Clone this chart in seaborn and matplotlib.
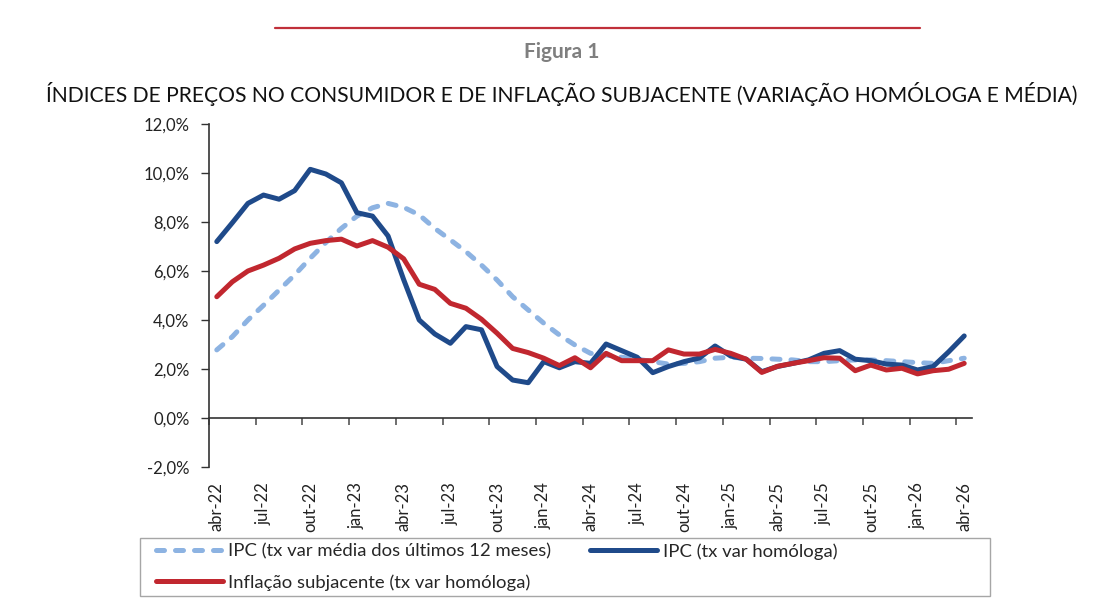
import numpy as np
import pandas as pd
import matplotlib
matplotlib.use("Agg")
import matplotlib.pyplot as plt
from matplotlib.lines import Line2D
from matplotlib.patches import Rectangle
import seaborn as sns

# ---------------- data ----------------
months_pt = ["jan", "fev", "mar", "abr", "mai", "jun", "jul", "ago", "set", "out", "nov", "dez"]
periods = [f"{months_pt[(3 + i) % 12]}-{22 + (3 + i) // 12}" for i in range(49)]  # abr-22 .. abr-26

ipc_media12 = [2.78, 3.32, 4.00, 4.60, 5.22, 5.84, 6.52, 7.16, 7.74, 8.24, 8.58, 8.76,
               8.60, 8.29, 7.74, 7.27, 6.79, 6.24, 5.63, 4.95, 4.41, 3.87, 3.39, 2.98,
               2.64, 2.57, 2.48, 2.40, 2.30, 2.20, 2.23, 2.30, 2.44, 2.48, 2.44, 2.43,
               2.40, 2.37, 2.30, 2.30, 2.34, 2.37, 2.37, 2.34, 2.30, 2.26, 2.23, 2.34, 2.44]

ipc_homologa = [7.20, 7.97, 8.76, 9.10, 8.93, 9.28, 10.15, 9.96, 9.60, 8.38, 8.24, 7.43,
                5.65, 4.00, 3.43, 3.05, 3.73, 3.60, 2.10, 1.55, 1.44, 2.30, 2.05, 2.30,
                2.23, 3.02, 2.75, 2.48, 1.85, 2.10, 2.30, 2.45, 2.94, 2.53, 2.40, 1.89,
                2.10, 2.23, 2.37, 2.64, 2.75, 2.40, 2.34, 2.20, 2.16, 1.96, 2.10, 2.70, 3.35]

inflacao_subj = [4.95, 5.56, 6.00, 6.24, 6.52, 6.90, 7.13, 7.24, 7.30, 7.02, 7.24, 6.97,
                 6.50, 5.46, 5.25, 4.68, 4.48, 4.03, 3.46, 2.84, 2.67, 2.44, 2.14, 2.46,
                 2.05, 2.64, 2.34, 2.34, 2.34, 2.78, 2.61, 2.61, 2.80, 2.64, 2.40, 1.86,
                 2.11, 2.23, 2.34, 2.46, 2.44, 1.93, 2.16, 1.96, 2.03, 1.80, 1.93, 1.99, 2.23]

yticks = [-2, 0, 2, 4, 6, 8, 10, 12]
ytick_labels = ["-2,0%", "0,0%", "2,0%", "4,0%", "6,0%", "8,0%", "10,0%", "12,0%"]

lbl_media = "IPC (tx var média dos últimos 12 meses)"
lbl_hom = "IPC (tx var homóloga)"
lbl_subj = "Inflação subjacente (tx var homóloga)"

df = pd.DataFrame({"pos": np.arange(len(periods)), "periodo": periods,
                   "media": ipc_media12, "homologa": ipc_homologa, "subj": inflacao_subj})

# ---------------- style ----------------
sns.set_style("white")
plt.rcParams["font.family"] = ["Lato", "DejaVu Sans"]

C_LIGHT = "#8DB3E2"
C_DARK = "#1F4A8A"
C_RED = "#C1272F"
LW = 3.6
DASH = (0, (1.6, 2.2))

fig = plt.figure(figsize=(11.03, 6.12), dpi=100)
ax = fig.add_axes([209 / 1103, 1 - 467 / 612, (972 - 209) / 1103, (467 - 124) / 612])

sns.lineplot(data=df, x="pos", y="media", ax=ax, color=C_LIGHT, linewidth=LW,
             linestyle=DASH, dash_capstyle="round", label=lbl_media, legend=False)
sns.lineplot(data=df, x="pos", y="homologa", ax=ax, color=C_DARK, linewidth=LW,
             solid_capstyle="round", solid_joinstyle="round", label=lbl_hom, legend=False)
sns.lineplot(data=df, x="pos", y="subj", ax=ax, color=C_RED, linewidth=LW,
             solid_capstyle="round", solid_joinstyle="round", label=lbl_subj, legend=False)

ax.set_xlim(-0.5, len(periods) - 0.5)
ax.set_ylim(-2, 12)
ax.set_xlabel("")
ax.set_ylabel("")

# y axis
ax.set_yticks(yticks)
ax.set_yticklabels(ytick_labels, fontsize=12, color="#222222")
ax.tick_params(axis="y", which="major", direction="out", length=6, width=1, color="#333333", pad=8, left=True)

# x axis crossing at 0
for s in ["top", "right"]:
    ax.spines[s].set_visible(False)
ax.spines["left"].set_color("#333333")
ax.spines["left"].set_linewidth(1.2)
ax.spines["bottom"].set_position(("data", 0))
ax.spines["bottom"].set_color("#333333")
ax.spines["bottom"].set_linewidth(1.2)

major = np.arange(0, len(periods), 3)
ax.set_xticks(major)
ax.set_xticklabels([periods[i] for i in major], rotation=90, fontsize=12, color="#222222",
                   va="top", ha="center")
ax.set_xticks(np.arange(-0.5, len(periods), 3), minor=True)
ax.tick_params(axis="x", which="major", length=0, pad=46)
ax.tick_params(axis="x", which="minor", direction="out", length=5, width=1.2, color="#555555", bottom=True)
ax.grid(False)

# legend (frame drawn separately)
fig.add_artist(Rectangle((140 / 1103, 1 - 596 / 612), (990 - 140) / 1103, (596 - 538) / 612,
                         transform=fig.transFigure, facecolor="white", edgecolor="#A6A6A6", lw=1.0))
handles = [Line2D([], [], color=C_LIGHT, lw=LW, linestyle=DASH, dash_capstyle="round"),
           Line2D([], [], color=C_RED, lw=LW, solid_capstyle="round"),
           Line2D([], [], color=C_DARK, lw=LW, solid_capstyle="round")]
leg = fig.legend(handles, [lbl_media, lbl_subj, lbl_hom], ncol=2,
                 loc="upper left", bbox_to_anchor=(156 / 1103, 1 - 543 / 612),
                 frameon=False, fontsize=13.3, handlelength=3.6,
                 handletextpad=0.32, columnspacing=2.1, labelspacing=0.78,
                 borderpad=0, borderaxespad=0)

# titles
fig.add_artist(Line2D([275 / 1103, 920 / 1103], [1 - 28 / 612, 1 - 28 / 612],
                      color="#C0303A", lw=1.6, transform=fig.transFigure))
fig.text(562 / 1103, 1 - 52 / 612, "Figura 1", ha="center", va="center",
         fontsize=15, fontweight="bold", color="#7F7F7F")
fig.text(562 / 1103, 1 - 94 / 612,
         "ÍNDICES DE PREÇOS NO CONSUMIDOR E DE INFLAÇÃO SUBJACENTE (VARIAÇÃO HOMÓLOGA E MÉDIA)",
         ha="center", va="center", fontsize=15.2, color="#111111")

fig.savefig("out.png", dpi=100)
